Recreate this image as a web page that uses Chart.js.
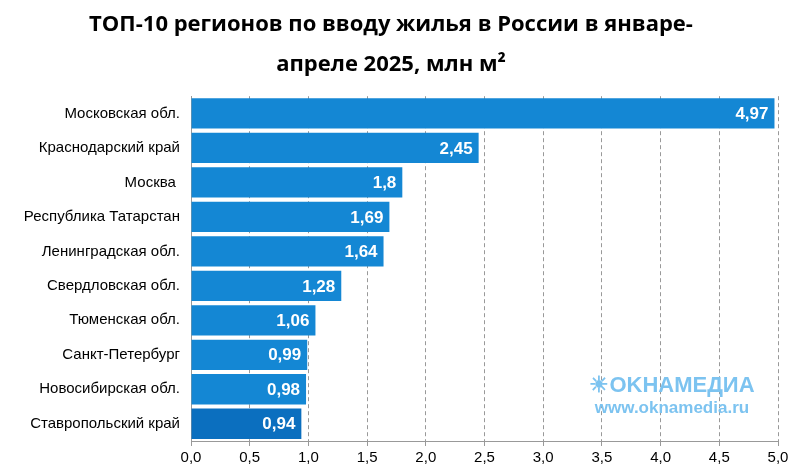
<!DOCTYPE html>
<html>
<head>
<meta charset="utf-8">
<script src="https://cdn.jsdelivr.net/npm/chart.js@4"></script>
<style>
  body { margin: 0; background: #fff; }
  #wrap { width: 800px; height: 472px; }
</style>
</head>
<body>
<div id="wrap"><canvas id="chart"></canvas></div>
<script>
// data
const regions = ['Московская обл.', 'Краснодарский край', 'Москва ', 'Республика Татарстан', 'Ленинградская обл.',
  'Свердловская обл.', 'Тюменская обл.', 'Санкт-Петербург', 'Новосибирская обл.', 'Ставропольский край'];
const volumes = [4.97, 2.45, 1.8, 1.69, 1.64, 1.28, 1.06, 0.99, 0.98, 0.94];
const titleLines = ['ТОП-10 регионов по вводу жилья в России в январе-', 'апреле 2025, млн м²'];

// white values at the bar ends + watermark
const labelsPlugin = {
  id: 'labels',
  afterDatasetsDraw(chart) {
    const ctx = chart.ctx;
    const meta = chart.getDatasetMeta(0);
    ctx.save();
    ctx.fillStyle = '#fff';
    ctx.font = 'bold 17px "Liberation Sans", Arial';
    ctx.textAlign = 'right';
    ctx.textBaseline = 'middle';
    meta.data.forEach((bar, i) => {
      ctx.fillText(String(volumes[i]).replace('.', ','), bar.x - 6, bar.y + 1);
    });
    ctx.textAlign = 'center';
    ctx.fillStyle = '#7cc3f0';
    ctx.font = 'bold 22px "Liberation Sans", Arial';
    ctx.fillText('☀OKHAMEДИА', 672, 386);
    ctx.font = 'bold 17px "Liberation Sans", Arial';
    ctx.fillText('www.oknamedia.ru', 672, 408);
    ctx.restore();
  }
};

const ctx = document.getElementById('chart').getContext('2d');
new Chart(ctx, {
  type: 'bar',
  data: {
    labels: regions,
    datasets: [{
      data: volumes,
      backgroundColor: volumes.map((v, i) => i === volumes.length - 1 ? '#0b6fbf' : '#1487d4'),
      categoryPercentage: 0.88,
      barPercentage: 1
    }]
  },
  options: {
    indexAxis: 'y',
    responsive: true,
    maintainAspectRatio: false,
    animation: false,
    layout: { padding: { left: 4, right: 22, top: 0, bottom: 2 } },
    plugins: {
      legend: { display: false },
      tooltip: { enabled: false },
      title: {
        display: true,
        text: titleLines,
        color: '#000',
        font: { family: '"Open Sans"', size: 22, weight: 'bold', lineHeight: 1.8 },
        padding: { top: 5, bottom: 12 }
      }
    },
    scales: {
      x: {
        min: 0, max: 5,
        ticks: {
          stepSize: 0.5, color: '#000',
          font: { family: '"Liberation Sans", Arial', size: 15 },
          callback: v => v.toFixed(1).replace('.', ',')
        },
        grid: { color: '#999', drawTicks: true, tickLength: 5 },
        border: { dash: [4, 3], color: '#999' }
      },
      y: {
        afterFit(scale) { scale.width = 187; },
        ticks: { color: '#000', font: { family: '"Liberation Sans", Arial', size: 15 } },
        grid: { display: false, drawOnChartArea: false },
        border: { color: '#999' }
      }
    }
  },
  plugins: [labelsPlugin]
});
</script>
</body>
</html>
